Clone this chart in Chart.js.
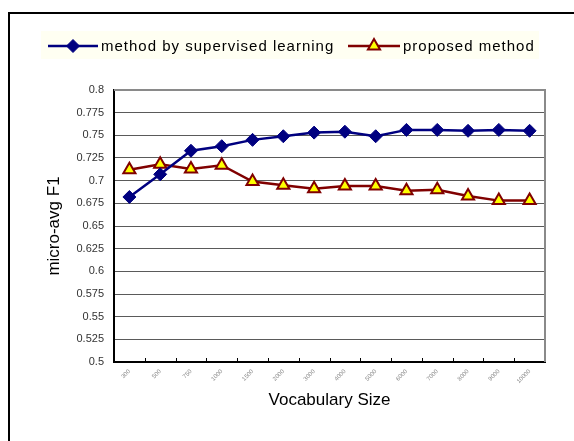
<!DOCTYPE html>
<html>
<head>
<meta charset="utf-8">
<script src="https://cdn.jsdelivr.net/npm/chart.js@4"></script>
<style>
  html, body { margin: 0; padding: 0; background: #ffffff; }
  #wrap { position: relative; width: 574px; height: 441px; }
  canvas { display: block; }
</style>
</head>
<body>
<div id="wrap"><canvas id="c" width="574" height="441"></canvas></div>
<script>
const categories = ['300','500','750','1000','1500','2000','3000','4000','5000','6000','7000','8000','9000','10000'];
const supervised = [0.682,0.707,0.733,0.738,0.745,0.749,0.753,0.754,0.749,0.756,0.756,0.755,0.756,0.755];
const proposed   = [0.712,0.718,0.713,0.717,0.699,0.695,0.691,0.694,0.694,0.689,0.690,0.683,0.678,0.678];
const seriesNames = ['method by supervised learning', 'proposed method'];
const yMin = 0.5, yMax = 0.8, yStep = 0.025;

const NAVY = '#000080', DARKRED = '#800000', YELLOW = '#ffff00';

const decorPlugin = {
  id: 'decor',
  beforeDraw(chart) {
    const ctx = chart.ctx;
    ctx.save();
    ctx.strokeStyle = '#000';
    ctx.lineWidth = 2;
    ctx.beginPath();
    ctx.moveTo(9, 441); ctx.lineTo(9, 13); ctx.lineTo(574, 13);
    ctx.stroke();
    ctx.fillStyle = '#fffff2';
    ctx.fillRect(41, 31, 498, 28);
    ctx.restore();
  },
  afterDraw(chart) {
    const ctx = chart.ctx;
    const a = chart.chartArea;
    const xs = chart.scales.x;
    ctx.save();
    ctx.strokeStyle = '#8a8a8a';
    ctx.lineWidth = 2;
    ctx.beginPath();
    ctx.moveTo(a.left, a.top); ctx.lineTo(a.right, a.top); ctx.lineTo(a.right, a.bottom);
    ctx.stroke();
    ctx.strokeStyle = '#000';
    ctx.lineWidth = 1;
    ctx.beginPath();
    for (let i = 0; i < categories.length - 1; i++) {
      const x = Math.round((xs.getPixelForValue(i) + xs.getPixelForValue(i + 1)) / 2) + 0.5;
      ctx.moveTo(x, a.bottom); ctx.lineTo(x, a.bottom - 4);
    }
    ctx.stroke();
    const ds = chart.data.datasets;
    const items = [{x0: 48, x1: 98, tx: 101}, {x0: 348, x1: 400, tx: 403}];
    const ly = 46;
    ctx.font = '15px "Liberation Sans", Arial, sans-serif';
    ctx.letterSpacing = '1px';
    ctx.textBaseline = 'middle';
    ctx.textAlign = 'left';
    items.forEach((it, i) => {
      const d = ds[i];
      ctx.strokeStyle = d.borderColor;
      ctx.lineWidth = d.borderWidth;
      ctx.beginPath(); ctx.moveTo(it.x0, ly); ctx.lineTo(it.x1, ly); ctx.stroke();
      ctx.fillStyle = d.pointBackgroundColor;
      ctx.strokeStyle = d.pointBorderColor;
      ctx.lineWidth = d.pointBorderWidth;
      ctx.beginPath();
      Chart.helpers.drawPoint(ctx, {
        pointStyle: d.pointStyle, radius: d.pointRadius, rotation: 0,
        borderWidth: d.pointBorderWidth
      }, (it.x0 + it.x1) / 2, ly);
      ctx.fillStyle = '#000';
      ctx.fillText(d.label, it.tx, ly + 1);
    });
    ctx.restore();
  }
};

new Chart(document.getElementById('c'), {
  type: 'line',
  data: {
    labels: categories,
    datasets: [
      {
        label: seriesNames[0], data: supervised,
        borderColor: NAVY, borderWidth: 2.5, backgroundColor: NAVY,
        pointStyle: 'rectRot', pointRadius: 6.5, pointBackgroundColor: NAVY,
        pointBorderColor: NAVY, pointBorderWidth: 1, tension: 0, fill: false
      },
      {
        label: seriesNames[1], data: proposed,
        borderColor: DARKRED, borderWidth: 2.5, backgroundColor: YELLOW,
        pointStyle: 'triangle', pointRadius: 7, pointBackgroundColor: YELLOW,
        pointBorderColor: DARKRED, pointBorderWidth: 2, tension: 0, fill: false
      }
    ]
  },
  options: {
    responsive: false,
    animation: false,
    events: [],
    layout: { padding: { left: 0, top: 90, right: 29, bottom: 0 } },
    plugins: { legend: { display: false }, tooltip: { enabled: false } },
    scales: {
      x: {
        offset: true,
        grid: { display: false, drawTicks: false },
        border: { display: true, color: '#000', width: 2 },
        ticks: {
          autoSkip: false, minRotation: 45, maxRotation: 45, padding: 6,
          color: '#8a8a8a', font: { size: 6, family: '"Liberation Sans", Arial, sans-serif' }
        },
        title: {
          display: true, text: 'Vocabulary Size', color: '#000',
          font: { size: 17, family: '"Liberation Sans", Arial, sans-serif' },
          padding: { top: 0, bottom: 30 }
        },
        afterFit(scale) { scale.height = 79; }
      },
      y: {
        min: yMin, max: yMax,
        grid: { color: '#5a5a5a', lineWidth: 1, drawTicks: false },
        border: { display: true, color: '#000', width: 2 },
        ticks: {
          stepSize: yStep, padding: 10, color: '#333',
          font: { size: 11, family: '"Liberation Sans Narrow", "Liberation Sans", Arial, sans-serif' },
          callback: (v) => String(Math.round(v * 1000) / 1000)
        },
        title: {
          display: true, text: 'micro-avg F1', color: '#000',
          font: { size: 17, family: '"Liberation Sans", Arial, sans-serif' },
          padding: { top: 44, bottom: 0 }
        },
        afterFit(scale) { scale.width = 114; }
      }
    }
  },
  plugins: [decorPlugin]
});
</script>
</body>
</html>
